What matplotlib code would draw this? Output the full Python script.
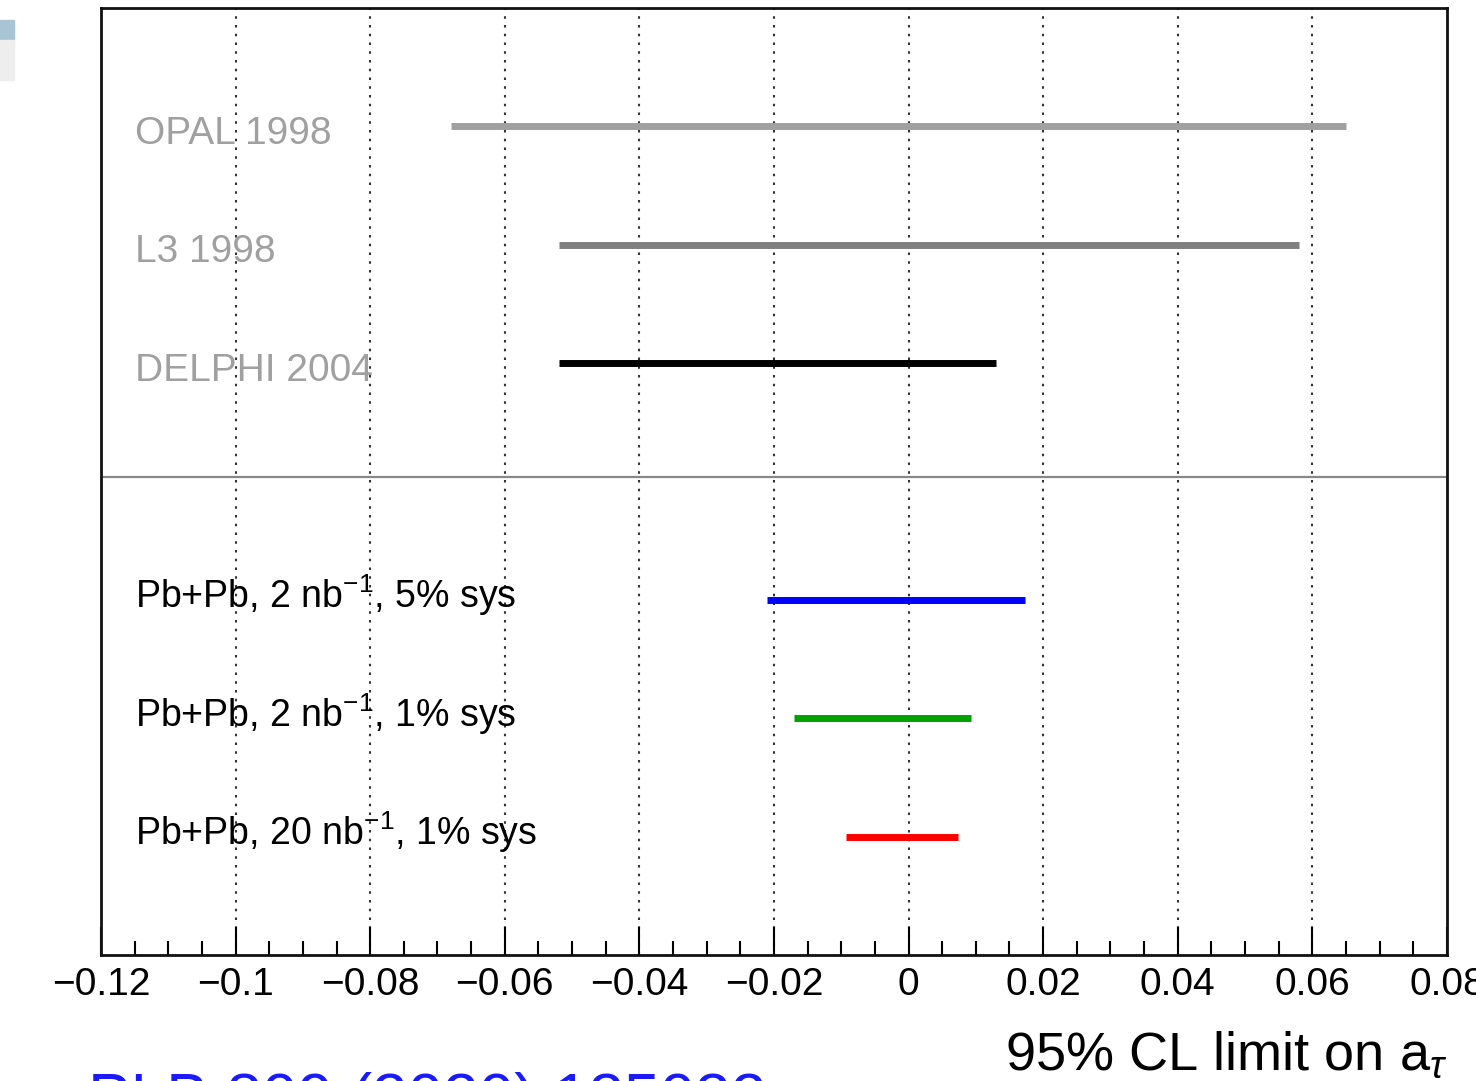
import matplotlib

matplotlib.use("Agg")
import matplotlib.pyplot as plt
from matplotlib.patches import Rectangle

plt.rcParams["font.family"] = ["Liberation Sans", "DejaVu Sans"]
plt.rcParams["mathtext.fontset"] = "custom"
plt.rcParams["mathtext.rm"] = "Liberation Sans"
plt.rcParams["mathtext.it"] = "Liberation Sans:italic"

# measurements / projections: 95% CL limits on a_tau
labels = [
    "OPAL 1998",
    "L3 1998",
    "DELPHI 2004",
    "Pb+Pb, 2 nb$^{\\mathrm{-1}}$, 5% sys",
    "Pb+Pb, 2 nb$^{\\mathrm{-1}}$, 1% sys",
    "Pb+Pb, 20 nb$^{\\mathrm{-1}}$, 1% sys",
]
rows = [7, 6, 5, 3, 2, 1]
lower = [-0.068, -0.052, -0.052, -0.021, -0.017, -0.0093]
upper = [0.065, 0.058, 0.013, 0.0173, 0.0093, 0.0074]
bar_colors = ["#a0a0a0", "#808080", "#000000", "#0000ff", "#00a000", "#ff0000"]
text_colors = ["#a0a0a0", "#a0a0a0", "#a0a0a0", "#000000", "#000000", "#000000"]
xticks = [-0.12, -0.1, -0.08, -0.06, -0.04, -0.02, 0, 0.02, 0.04, 0.06, 0.08]
xtick_labels = ["−0.12", "−0.1", "−0.08", "−0.06", "−0.04", "−0.02", "0",
                "0.02", "0.04", "0.06", "0.08"]

fig = plt.figure(figsize=(14.76, 10.81), dpi=100)
ax = fig.add_axes([0.0684, 0.1166, 0.9119, 0.876])
ax.set_xlim(-0.12, 0.08)
ax.set_ylim(0, 8)

for xv in xticks[1:-1]:
    ax.axvline(xv, color="#333333", lw=1.5, linestyle=(0, (1.2, 3)), zorder=1)

# separator between past measurements and projections
ax.axhline(4.04, color="#888888", lw=1.6, zorder=2)

for y, lo, hi, c, lab, tc in zip(rows, lower, upper, bar_colors, labels, text_colors):
    ax.plot([lo, hi], [y, y], color=c, lw=5, solid_capstyle="butt", zorder=3)
    if y > 4:
        ax.text(-0.115, y - 0.15, lab, color=tc, fontsize=28, va="baseline", zorder=4)
    else:
        ax.text(-0.115, y - 0.07, lab, color=tc, fontsize=27, va="baseline", zorder=4)

ax.set_xticks(xticks)
ax.set_xticklabels(xtick_labels, fontsize=28)
ax.set_xticks([v / 1000 for v in range(-115, 80, 5) if v % 20 != 0], minor=True)
ax.set_yticks([])
ax.tick_params(axis="x", which="major", direction="in", length=20, width=1.5, pad=9)
ax.tick_params(axis="x", which="minor", direction="in", length=10, width=1.5)
for s in ax.spines.values():
    s.set_linewidth(2)
    s.set_color("#111111")

fig.text(0.981, 1 - 1070 / 1081, "95% CL limit on a$_{\\tau}$", fontsize=39,
         ha="right", va="baseline")
fig.text(88 / 1476, 1 - 1072 / 1081, "PLB 809 (2020) 135032", fontsize=46,
         color="#1a1aff", ha="left", va="top")

# small slide icon remnant in top-left corner
fig.patches.append(Rectangle((0, 1 - 40 / 1081), 14 / 1476, 20 / 1081,
                             transform=fig.transFigure, color="#a9c4d4"))
fig.patches.append(Rectangle((0, 1 - 80 / 1081), 14 / 1476, 40 / 1081,
                             transform=fig.transFigure, color="#eeeeee"))

fig.savefig("out.png", dpi=100, facecolor="white")
